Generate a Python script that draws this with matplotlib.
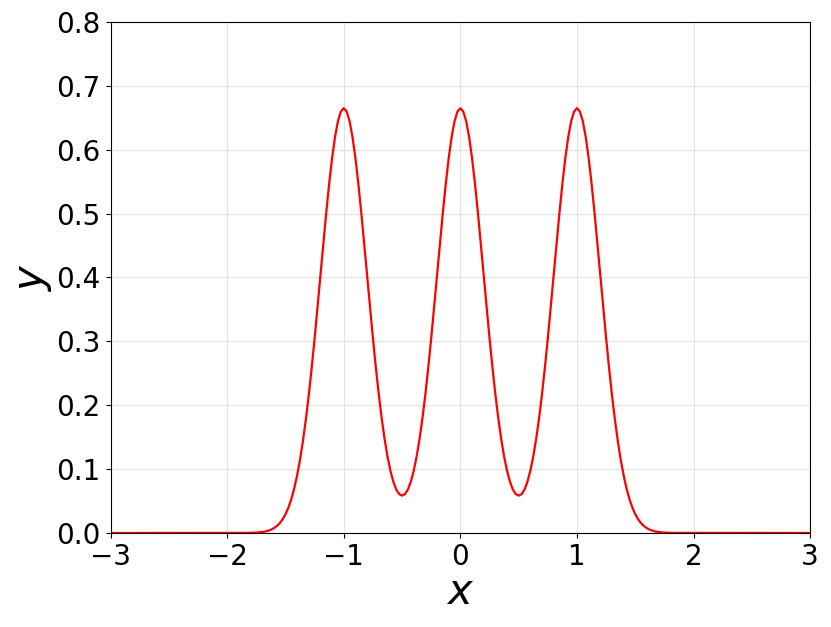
import numpy as np
import matplotlib
matplotlib.use("Agg")
import matplotlib.pyplot as plt

# Outer flank of a peak: distance 0 .. 1.0 from the peak centre
tail = [0.665, 0.6598, 0.6445, 0.6198, 0.5869, 0.5470, 0.5019, 0.4535, 0.4034, 0.3532,
        0.3044, 0.2584, 0.2159, 0.1776, 0.1439, 0.1147, 0.0900, 0.0695, 0.0529, 0.0396,
        0.0292, 0.0212, 0.0151, 0.0107, 0.0074, 0.0050, 0.0034, 0.0022, 0.0015, 0.0009,
        0.0006, 0.0004, 0.0002, 0.0001, 0.0001, 0.0, 0.0, 0.0, 0.0, 0.0, 0.0]
# Inner flank between two peaks: distance 0 .. 0.5 from the peak centre
inner = [0.665, 0.6598, 0.6445, 0.6198, 0.5869, 0.5470, 0.5020, 0.4536, 0.4036, 0.3536,
         0.3050, 0.2593, 0.2174, 0.1798, 0.1473, 0.1197, 0.0974, 0.0802, 0.0680, 0.0608,
         0.0584]

y_core = (tail[::-1] + inner[1:] + inner[::-1][1:] + inner[1:] + inner[::-1][1:] + tail[1:])
x_core = [round(v, 3) for v in np.linspace(-2.0, 2.0, len(y_core))]
x_vals = [-3.0] + x_core + [3.0]
y_vals = [0.0] + y_core + [0.0]

x_ticks = [-3, -2, -1, 0, 1, 2, 3]
y_ticks = [0.0, 0.1, 0.2, 0.3, 0.4, 0.5, 0.6, 0.7, 0.8]

fig = plt.figure(figsize=(8.31, 6.27), dpi=100)
ax = fig.add_axes([0.133, 0.150, 0.842, 0.815])
ax.plot(x_vals, y_vals, color="red", lw=1.6)
ax.set_xlim(-3, 3)
ax.set_ylim(0, 0.8)
ax.set_xticks(x_ticks)
ax.set_yticks(y_ticks)
ax.set_yticklabels([f"{v:.1f}" for v in y_ticks])
ax.tick_params(labelsize=20)
ax.grid(True, color="#e3e3e3", lw=0.8)
ax.set_axisbelow(True)
ax.set_xlabel("$x$", fontsize=30, labelpad=0)
ax.set_ylabel("$y$", fontsize=30, labelpad=2)
fig.savefig("out.png", dpi=100)
